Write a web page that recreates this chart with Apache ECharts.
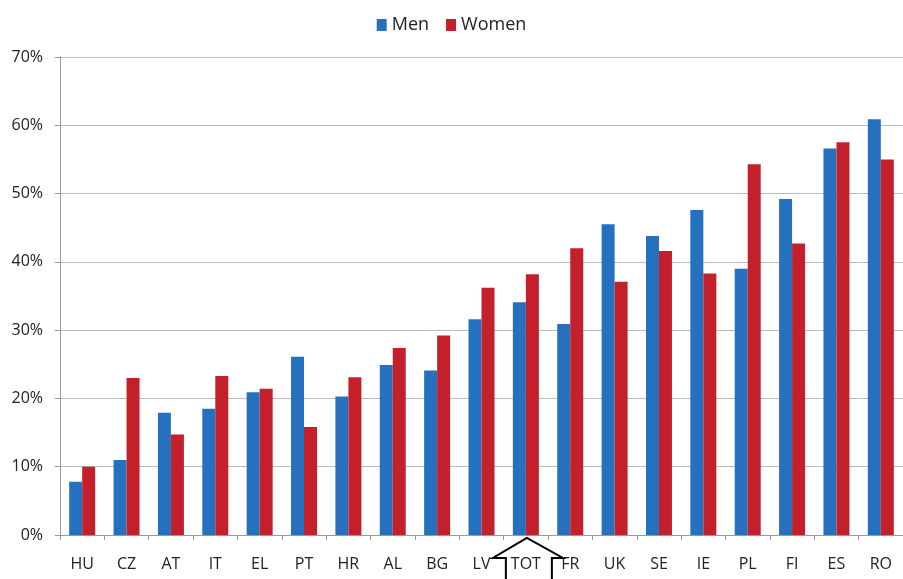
<!DOCTYPE html>
<html>
<head>
<meta charset="utf-8">
<script src="https://cdn.jsdelivr.net/npm/echarts@6/dist/echarts.min.js"></script>
<style>
html,body{margin:0;padding:0;background:#fff;}
#c{width:903px;height:579px;}
</style>
</head>
<body>
<div id="c"></div>
<script>
const categories = ['HU','CZ','AT','IT','EL','PT','HR','AL','BG','LV','TOT','FR','UK','SE','IE','PL','FI','ES','RO'];
const men   = [7.8, 11.0, 17.9, 18.5, 20.9, 26.1, 20.3, 24.9, 24.1, 31.6, 34.1, 30.9, 45.5, 43.8, 47.6, 39.0, 49.2, 56.6, 60.9];
const women = [10.0, 23.0, 14.7, 23.3, 21.4, 15.8, 23.1, 27.4, 29.2, 36.2, 38.2, 42.0, 37.1, 41.6, 38.3, 54.3, 42.7, 57.5, 55.0];
const yTicks = [0,10,20,30,40,50,60,70];

const chart = echarts.init(document.getElementById('c'), null, {renderer:'canvas'});
const font = '"Open Sans", "Noto Sans", sans-serif';
chart.setOption({
  animation:false,
  backgroundColor:'#fff',
  textStyle:{fontFamily:font},
  legend:{
    top:11, left:'center',
    itemWidth:10, itemHeight:12, itemGap:17,
    icon:'rect',
    textStyle:{fontSize:18, color:'#222', fontFamily:font},
    data:['Men','Women']
  },
  grid:{left:60, top:57, width:846, bottom:44, containLabel:false},
  xAxis:{
    type:'category',
    data:categories,
    axisLine:{lineStyle:{color:'#999', width:1}},
    axisTick:{show:true, length:5, lineStyle:{color:'#999'}},
    axisLabel:{fontSize:16, color:'#222', margin:21, fontFamily:font}
  },
  yAxis:{
    type:'value',
    min:yTicks[0], max:yTicks[yTicks.length-1], interval:10,
    axisLine:{show:true, lineStyle:{color:'#999'}},
    axisTick:{show:true, length:5, lineStyle:{color:'#999'}},
    splitLine:{lineStyle:{color:'#bbb', width:1.2}},
    axisLabel:{fontSize:16, color:'#222', margin:17, formatter:'{value}%', fontFamily:font}
  },
  series:[
    {name:'Men', type:'bar', data:men, barWidth:13, barGap:'0%', itemStyle:{color:'#2670C0'}},
    {name:'Women', type:'bar', data:women, barWidth:13, barGap:'0%', itemStyle:{color:'#C4202B'}}
  ]
});

// Arrow-shaped annotation around the TOT label
const tx = chart.convertToPixel({xAxisIndex:0}, 'TOT');
const by = chart.convertToPixel({yAxisIndex:0}, 0);
chart.setOption({
  graphic:[{
    type:'polyline',
    silent:true,
    shape:{points:[
      [tx-20, 579], [tx-20, by+23], [tx-33, by+23],
      [tx+1, by+3],
      [tx+37, by+23], [tx+26, by+23], [tx+26, 579]
    ]},
    style:{stroke:'#000', lineWidth:2, fill:null}
  }]
});
</script>
</body>
</html>
